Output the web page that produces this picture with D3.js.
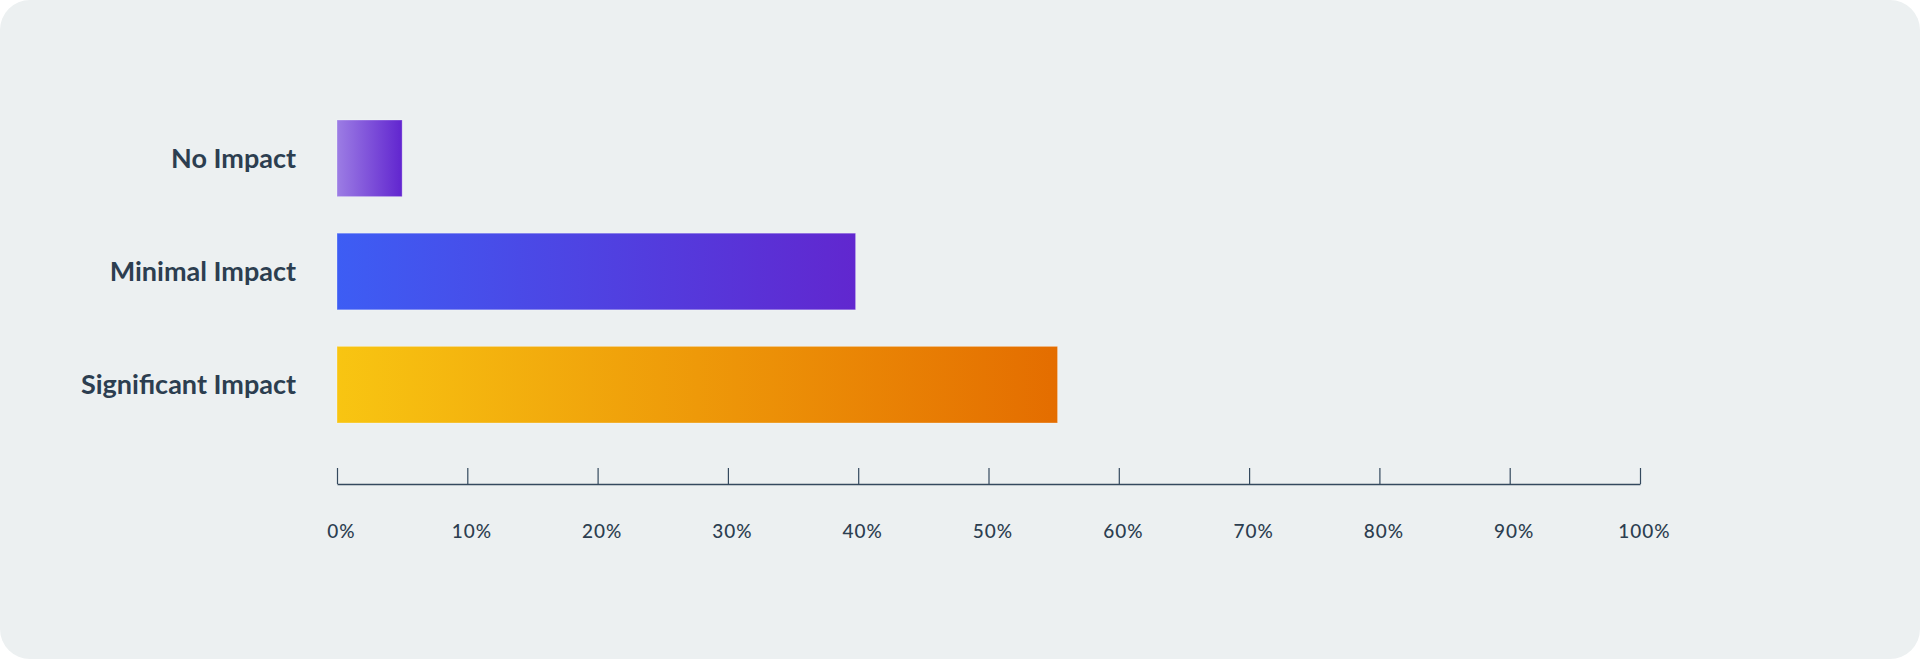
<!DOCTYPE html>
<html>
<head>
<meta charset="utf-8">
<script src="https://cdn.jsdelivr.net/npm/d3@7"></script>
<style>
  html, body { margin: 0; padding: 0; background: #ffffff; }
  svg { display: block; }
</style>
</head>
<body>
<div id="chart"></div>
<script>
'use strict';

// Data
var categories = ['No Impact', 'Minimal Impact', 'Significant Impact']
var values = [5, 39.8, 55.3]
var tickValues = [0, 10, 20, 30, 40, 50, 60, 70, 80, 90, 100]
var gradientStops = [
  ['#9c7de4', '#6125cf'],
  ['#3d5df4', '#6127cf'],
  ['#f8c512', '#e46d00']
]

var width = 1920
var height = 659

var svg = d3.select('#chart').append('svg')
  .attr('width', width)
  .attr('height', height)

// Card background
svg.append('rect')
  .attr('x', 0)
  .attr('y', 0)
  .attr('width', width)
  .attr('height', height)
  .attr('rx', 30)
  .attr('ry', 30)
  .style('fill', '#ecf0f1')

// Gradients, one per bar
var defs = svg.append('defs')
categories.forEach(function(c, i){
  var grad = defs.append('linearGradient')
    .attr('id', 'grad' + i)
    .attr('x1', '0%').attr('x2', '100%')
    .attr('y1', '0%').attr('y2', '0%')
  grad.append('stop').attr('offset', '0%').attr('stop-color', gradientStops[i][0])
  grad.append('stop').attr('offset', '100%').attr('stop-color', gradientStops[i][1])
})

// Scales
var x = d3.scaleLinear()
  .domain([0, 100])
  .range([337, 1640])

var y = d3.scaleBand()
  .domain(categories)
  .range([120, 423])
  .paddingInner(0.323)
  .paddingOuter(0)

// Bars
svg.selectAll('.bar')
  .data(categories)
  .enter().append('rect')
    .attr('class', 'bar')
    .attr('x', x(0))
    .attr('y', function(d) { return y(d) })
    .attr('width', function(d, i) { return x(values[i]) - x(0) })
    .attr('height', y.bandwidth())
    .style('fill', function(d, i) { return 'url(#grad' + i + ')' })
    .style('stroke', 'rgba(255,255,255,0.3)')
    .style('stroke-width', 1)

// Category labels
svg.selectAll('.label')
  .data(categories)
  .enter().append('text')
    .attr('class', 'label')
    .attr('x', 296)
    .attr('y', function(d) { return y(d) + y.bandwidth() / 2 })
    .attr('dy', '0.35em')
    .style('font', '700 27px Lato, sans-serif')
    .style('fill', '#2c3e50')
    .style('text-anchor', 'end')
    .text(function(d) { return d })

// Axis
var axis = svg.append('g')
  .attr('class', 'axis axis--x')
  .attr('transform', 'translate(0,484)')
  .call(d3.axisBottom(x)
    .tickValues(tickValues)
    .tickSize(-16)
    .tickSizeOuter(0)
    .tickPadding(0)
    .tickFormat(function(d) { return d + '%' }))

axis.select('.domain')
  .style('stroke', '#34495e')
  .style('stroke-width', 1.5)

axis.selectAll('.tick line')
  .style('stroke', '#34495e')
  .style('stroke-width', 1.2)

axis.selectAll('.tick text')
  .attr('y', 54)
  .attr('dy', 0)
  .attr('dx', 4)
  .style('font', '500 19px Lato, sans-serif')
  .style('letter-spacing', '1px')
  .style('fill', '#2c3e50')
</script>
</body>
</html>
